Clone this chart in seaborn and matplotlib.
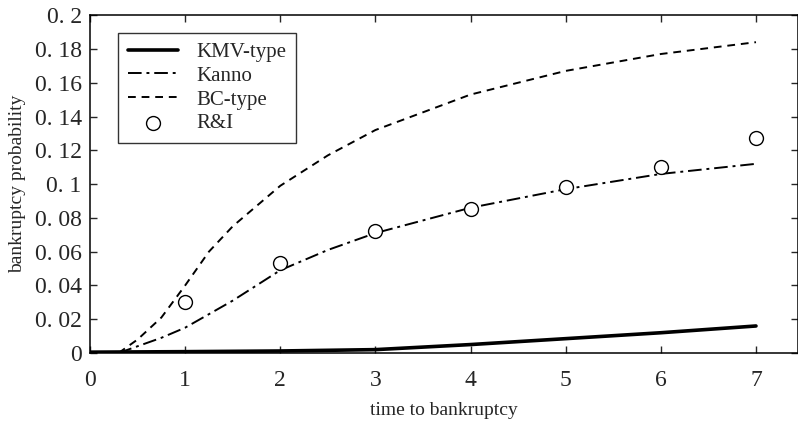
import numpy as np
import pandas as pd
import matplotlib
matplotlib.use("Agg")
import matplotlib.pyplot as plt
import seaborn as sns

# === Datos ===
t_kmv = [0, 1, 2, 3, 4, 5, 6, 7]
p_kmv = [0.0005, 0.0008, 0.0012, 0.002, 0.005, 0.0085, 0.012, 0.016]

t_kanno = [0.3, 0.5, 0.75, 1, 1.5, 2, 2.5, 3, 4, 5, 6, 7]
p_kanno = [0.0, 0.004, 0.009, 0.015, 0.031, 0.049, 0.061, 0.071, 0.086, 0.097, 0.106, 0.112]

t_bc = [0.3, 0.5, 0.75, 1, 1.25, 1.5, 2, 2.5, 3, 4, 5, 6, 7]
p_bc = [0.0, 0.008, 0.021, 0.040, 0.060, 0.075, 0.099, 0.117, 0.132, 0.153, 0.167, 0.177, 0.184]

t_ri = [1, 2, 3, 4, 5, 6, 7]
p_ri = [0.030, 0.053, 0.072, 0.085, 0.098, 0.110, 0.127]

y_ticks = [0, 0.02, 0.04, 0.06, 0.08, 0.1, 0.12, 0.14, 0.16, 0.18, 0.2]
y_labels = ["0", "0. 02", "0. 04", "0. 06", "0. 08", "0. 1", "0. 12", "0. 14", "0. 16", "0. 18", "0. 2"]

# === Estilo ===
sns.set_style("ticks")
plt.rcParams["font.family"] = ["Liberation Serif", "DejaVu Serif"]

fig = plt.figure(figsize=(7.98, 4.21), dpi=100)
ax = fig.add_axes([0.1128, 0.1615, 0.887, 0.8025])

df_kmv = pd.DataFrame({"t": t_kmv, "p": p_kmv})
df_kanno = pd.DataFrame({"t": t_kanno, "p": p_kanno})
df_bc = pd.DataFrame({"t": t_bc, "p": p_bc})
df_ri = pd.DataFrame({"t": t_ri, "p": p_ri})

sns.lineplot(data=df_kmv, x="t", y="p", ax=ax, color="black", lw=2.6, label="KMV-type")
sns.lineplot(data=df_kanno, x="t", y="p", ax=ax, color="black", lw=1.4, label="Kanno")
ax.lines[-1].set_dashes([7, 2.5, 1.5, 2.5])
sns.scatterplot(data=df_ri, x="t", y="p", ax=ax, s=100, facecolor="white",
                edgecolor="black", linewidth=1.0, label="R&I", zorder=5)
sns.lineplot(data=df_bc, x="t", y="p", ax=ax, color="black", lw=1.4, label="BC-type")
ax.lines[-1].set_dashes([4, 3])

ax.set_xlim(0, 7.44)
ax.set_ylim(0, 0.2)
ax.set_xticks(range(0, 8))
ax.set_yticks(y_ticks)
ax.set_yticklabels(y_labels)
ax.tick_params(direction="in", top=True, right=True, length=5, width=1, labelsize=17)
ax.tick_params(axis="x", pad=12)
ax.tick_params(axis="y", pad=6)
for s in ax.spines.values():
    s.set_linewidth(1.1)
    s.set_color("black")

ax.set_xlabel("time to bankruptcy", fontsize=14, labelpad=8)
ax.set_ylabel("bankruptcy probability", fontsize=14, labelpad=6)

# orden de la leyenda como en la figura
h, l = ax.get_legend_handles_labels()
orden = ["KMV-type", "Kanno", "BC-type", "R&I"]
h = [h[l.index(o)] for o in orden]
leg = ax.legend(h, orden, loc="upper left", bbox_to_anchor=(0.04, 0.947), borderaxespad=0,
                fontsize=15, frameon=True, fancybox=False, edgecolor="black",
                handlelength=2.4, labelspacing=0.2, borderpad=0.45, handletextpad=0.9)
leg.get_frame().set_linewidth(1.0)

plt.savefig("out.png", dpi=100)
